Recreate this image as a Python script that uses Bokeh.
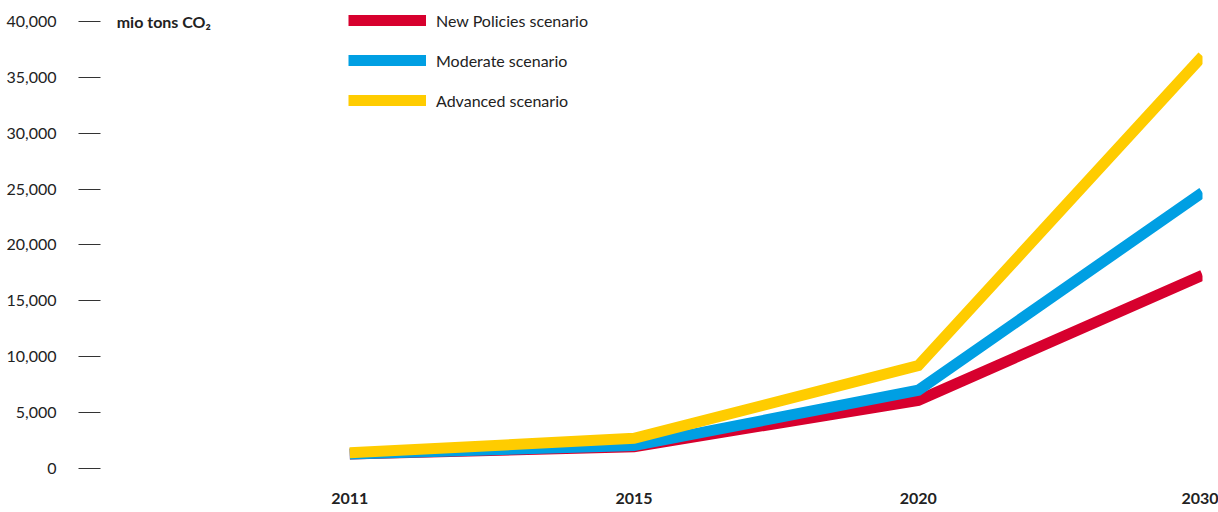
from bokeh.plotting import figure
from bokeh.models import (FixedTicker, NumeralTickFormatter, Legend, LegendItem, Label, Range1d)
from bokeh.embed import file_html
from bokeh.resources import INLINE

years = ["2011", "2015", "2020", "2030"]
new_policies = [1300, 1950, 6100, 17300]
moderate = [1300, 2050, 7000, 24700]
advanced = [1400, 2700, 9200, 36900]
y_ticks = [0, 5000, 10000, 15000, 20000, 25000, 30000, 35000, 40000]

FONT = "Lato"
RED = "#D7002E"
BLUE = "#009FE3"
YELLOW = "#FFCC00"

xs = list(range(len(years)))

p = figure(width=1218, height=512, output_backend="svg", toolbar_location=None,
           x_range=Range1d(-0.877, 3.0), y_range=Range1d(-1074, 40984),
           min_border_left=100, min_border_right=16, min_border_top=10, min_border_bottom=32)
p.outline_line_color = None
p.grid.visible = False
p.background_fill_color = "white"
p.border_fill_color = "white"

r1 = p.line(xs, new_policies, line_color=RED, line_width=11, line_join="miter")
r2 = p.line(xs, moderate, line_color=BLUE, line_width=11, line_join="miter")
r3 = p.line(xs, advanced, line_color=YELLOW, line_width=11, line_join="miter")

# y axis
ya = p.yaxis[0]
ya.ticker = FixedTicker(ticks=y_ticks)
ya.formatter = NumeralTickFormatter(format="0,0")
ya.axis_line_color = None
ya.major_tick_out = 22
ya.major_tick_in = 0
ya.major_tick_line_color = "#333333"
ya.major_tick_line_width = 1
ya.minor_tick_line_color = None
ya.major_label_standoff = 22
ya.major_label_text_font = FONT
ya.major_label_text_font_size = "16px"
ya.major_label_text_color = "#222222"

# x axis
xa = p.xaxis[0]
xa.ticker = FixedTicker(ticks=xs)
xa.major_label_overrides = {i: y for i, y in zip(xs, years)}
xa.axis_line_color = None
xa.major_tick_line_color = None
xa.minor_tick_line_color = None
xa.major_tick_out = 0
xa.major_tick_in = 0
xa.major_label_standoff = 12
xa.major_label_text_font = FONT
xa.major_label_text_font_style = "bold"
xa.major_label_text_font_size = "16px"
xa.major_label_text_color = "#222222"

unit = Label(x=-0.82, y=40000, text="mio tons CO₂", text_font=FONT, text_font_style="bold",
             text_font_size="16px", text_color="#222222", text_baseline="middle", text_align="left")
p.add_layout(unit)

legend = Legend(items=[LegendItem(label="New Policies scenario", renderers=[r1]),
                       LegendItem(label="Moderate scenario", renderers=[r2]),
                       LegendItem(label="Advanced scenario", renderers=[r3])],
                location=(248, 370), orientation="vertical",
                glyph_width=78, glyph_height=20, spacing=20, padding=0, margin=0,
                label_standoff=10, border_line_color=None, background_fill_alpha=0,
                label_text_font=FONT, label_text_font_size="16px", label_text_color="#222222")
p.add_layout(legend, "center")

open("out.html", "w").write(file_html(p, INLINE))
